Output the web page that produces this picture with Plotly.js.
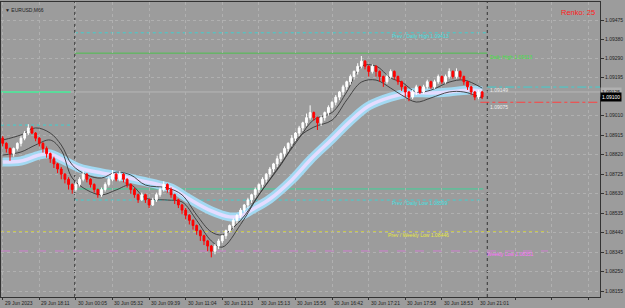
<!DOCTYPE html>
<html><head><meta charset="utf-8">
<script src="https://cdn.plot.ly/plotly-3.0.1.min.js"></script>
<style>html,body{margin:0;padding:0;background:#9c9c9c}#chart{width:625px;height:308px}</style>
</head><body><div id="chart"></div>
<script>
// ---- Renko bricks (price) ----
const brickOpen = [1.08900,1.08875,1.08850,1.08825,1.08850,1.08875,1.08900,1.08925,1.08950,1.08925,
1.08900,1.08875,1.08850,1.08825,1.08800,1.08775,1.08750,1.08725,1.08700,1.08675,
1.08650,1.08675,1.08700,1.08725,1.08700,1.08675,1.08650,1.08625,1.08650,1.08675,
1.08700,1.08725,1.08700,1.08725,1.08700,1.08675,1.08650,1.08625,1.08600,1.08625,
1.08600,1.08575,1.08600,1.08625,1.08650,1.08675,1.08650,1.08625,1.08600,1.08575,
1.08550,1.08525,1.08500,1.08475,1.08450,1.08425,1.08400,1.08375,1.08350,1.08375,
1.08400,1.08425,1.08450,1.08475,1.08500,1.08525,1.08550,1.08575,1.08600,1.08625,
1.08650,1.08675,1.08700,1.08725,1.08750,1.08775,1.08800,1.08825,1.08850,1.08875,
1.08900,1.08925,1.08950,1.08975,1.09000,1.09025,1.09000,1.08975,1.09000,1.09025,
1.09050,1.09075,1.09100,1.09125,1.09150,1.09175,1.09200,1.09225,1.09250,1.09275,
1.09250,1.09225,1.09250,1.09225,1.09200,1.09175,1.09200,1.09225,1.09200,1.09175,
1.09150,1.09125,1.09100,1.09125,1.09150,1.09125,1.09150,1.09175,1.09150,1.09175,
1.09200,1.09175,1.09200,1.09225,1.09200,1.09225,1.09200,1.09175,1.09150,1.09125,
1.09100,1.09125];
const brickClose = [1.08875,1.08850,1.08825,1.08850,1.08875,1.08900,1.08925,1.08950,1.08925,1.08900,
1.08875,1.08850,1.08825,1.08800,1.08775,1.08750,1.08725,1.08700,1.08675,1.08650,
1.08675,1.08700,1.08725,1.08700,1.08675,1.08650,1.08625,1.08650,1.08675,1.08700,
1.08725,1.08700,1.08725,1.08700,1.08675,1.08650,1.08625,1.08600,1.08625,1.08600,
1.08575,1.08600,1.08625,1.08650,1.08675,1.08650,1.08625,1.08600,1.08575,1.08550,
1.08525,1.08500,1.08475,1.08450,1.08425,1.08400,1.08375,1.08350,1.08375,1.08400,
1.08425,1.08450,1.08475,1.08500,1.08525,1.08550,1.08575,1.08600,1.08625,1.08650,
1.08675,1.08700,1.08725,1.08750,1.08775,1.08800,1.08825,1.08850,1.08875,1.08900,
1.08925,1.08950,1.08975,1.09000,1.09025,1.09000,1.08975,1.09000,1.09025,1.09050,
1.09075,1.09100,1.09125,1.09150,1.09175,1.09200,1.09225,1.09250,1.09275,1.09250,
1.09225,1.09250,1.09225,1.09200,1.09175,1.09200,1.09225,1.09200,1.09175,1.09150,
1.09125,1.09100,1.09125,1.09150,1.09125,1.09150,1.09175,1.09150,1.09175,1.09200,
1.09175,1.09200,1.09225,1.09200,1.09225,1.09200,1.09175,1.09150,1.09125,1.09100,
1.09125,1.09100];
const brickHigh = [1.08910,1.08880,1.08855,1.08855,1.08880,1.08910,1.08935,1.08968,1.08960,1.08930,
1.08905,1.08880,1.08860,1.08830,1.08810,1.08780,1.08760,1.08730,1.08710,1.08680,
1.08690,1.08710,1.08740,1.08730,1.08705,1.08680,1.08655,1.08660,1.08685,1.08710,
1.08745,1.08730,1.08740,1.08730,1.08705,1.08680,1.08660,1.08630,1.08635,1.08630,
1.08605,1.08610,1.08635,1.08660,1.08690,1.08680,1.08660,1.08630,1.08605,1.08580,
1.08560,1.08530,1.08505,1.08480,1.08455,1.08430,1.08405,1.08380,1.08385,1.08410,
1.08430,1.08455,1.08480,1.08510,1.08530,1.08560,1.08580,1.08610,1.08630,1.08660,
1.08680,1.08710,1.08730,1.08760,1.08780,1.08815,1.08830,1.08860,1.08880,1.08915,
1.08930,1.08960,1.08980,1.09020,1.09060,1.09030,1.09005,1.09010,1.09030,1.09060,
1.09080,1.09110,1.09130,1.09160,1.09180,1.09210,1.09230,1.09265,1.09300,1.09280,
1.09255,1.09260,1.09255,1.09230,1.09205,1.09210,1.09235,1.09230,1.09205,1.09180,
1.09155,1.09130,1.09135,1.09160,1.09155,1.09160,1.09185,1.09180,1.09185,1.09210,
1.09205,1.09210,1.09240,1.09230,1.09240,1.09230,1.09205,1.09180,1.09155,1.09130,
1.09135,1.09130];
const brickLow = [1.08860,1.08830,1.08790,1.08810,1.08840,1.08860,1.08890,1.08915,1.08920,1.08885,
1.08860,1.08830,1.08805,1.08780,1.08755,1.08730,1.08700,1.08680,1.08650,1.08630,
1.08640,1.08665,1.08690,1.08685,1.08660,1.08635,1.08610,1.08615,1.08640,1.08665,
1.08690,1.08690,1.08690,1.08685,1.08660,1.08630,1.08610,1.08585,1.08595,1.08585,
1.08560,1.08570,1.08590,1.08615,1.08640,1.08635,1.08610,1.08580,1.08560,1.08530,
1.08505,1.08480,1.08455,1.08430,1.08400,1.08380,1.08350,1.08320,1.08335,1.08360,
1.08390,1.08410,1.08440,1.08460,1.08485,1.08510,1.08540,1.08560,1.08585,1.08610,
1.08635,1.08660,1.08685,1.08710,1.08735,1.08760,1.08785,1.08810,1.08835,1.08860,
1.08885,1.08910,1.08935,1.08960,1.08990,1.08985,1.08940,1.08960,1.08985,1.09010,
1.09035,1.09060,1.09085,1.09110,1.09135,1.09160,1.09185,1.09210,1.09240,1.09235,
1.09200,1.09215,1.09200,1.09175,1.09150,1.09165,1.09190,1.09185,1.09160,1.09130,
1.09100,1.09080,1.09090,1.09110,1.09115,1.09115,1.09140,1.09140,1.09140,1.09165,
1.09165,1.09165,1.09190,1.09190,1.09190,1.09185,1.09160,1.09135,1.09110,1.09085,
1.09090,1.09090];

// ---- envelope lines (black) : bar index & price ----
const bandBars  = [0,5,9,13,16,19,23,27,31,35,39,45,49,53,57,60,65,70,76,81,85,90,94,98,102,106,109,113,117,122,126,131];
const upperBand = [1.08891,1.08916,1.08950,1.08925,1.08867,1.08770,1.08721,1.08706,1.08735,1.08721,1.08672,1.08658,1.08624,1.08526,1.08444,1.08430,1.08500,1.08625,1.08775,1.08900,1.08990,1.09025,1.09125,1.09250,1.09251,1.09193,1.09173,1.09125,1.09134,1.09173,1.09183,1.09144];
const lowerBand = [1.08818,1.08833,1.08867,1.08891,1.08842,1.08706,1.08648,1.08624,1.08648,1.08672,1.08609,1.08599,1.08590,1.08500,1.08400,1.08370,1.08480,1.08624,1.08770,1.08906,1.08954,1.08988,1.09086,1.09173,1.09183,1.09144,1.09110,1.09076,1.09096,1.09125,1.09125,1.09096];

// ---- slow moving average (light blue) ----
const maBars   = [0,5,10,13,16,21,27,32,38,43,46,51,57,62,65,68,73,79,84,90,95,100,106,111,117,122,127,131];
const maValues = [1.08784,1.08789,1.08818,1.08823,1.08799,1.08755,1.08731,1.08716,1.08692,1.08672,1.08658,1.08604,1.08546,1.08517,1.08521,1.08551,1.08604,1.08697,1.08794,1.08896,1.08984,1.09057,1.09100,1.09120,1.09120,1.09125,1.09134,1.09130];

// ---- levels ----
const prevDailyHigh = 1.09413;
const dailyHigh = 1.09314;
const leftHigh = 1.08964;
const leftGreen = 1.09125;
const dailyGreenLow = 1.08653;
const prevDailyLow = 1.08599;
const prevWeeklyLow = 1.08446;
const weeklyLow = 1.08351;
const cyanRight = 1.09149;
const redRight = 1.09075;
const bidPrice = 1.09100;
const askPrice = 1.09125;

// ---- axes ----
const xTickBars = [0,10,20,30,40,50,60,70,80,90,100,110,120,130,140,150,160];
const xTickLabels = ['29 Jun 2023','29 Jun 18:11','30 Jun 00:05','30 Jun 05:32','30 Jun 09:39','30 Jun 11:04','30 Jun 13:13','30 Jun 15:13','30 Jun 15:56','30 Jun 16:42','30 Jun 17:21','30 Jun 17:58','30 Jun 18:53','30 Jun 21:01'];
const yTickVals = [1.09475,1.09380,1.09290,1.09195,1.09010,1.08915,1.08820,1.08725,1.08630,1.08535,1.08440,1.08345,1.08250,1.08155];
const yTickLabels = ['1.09475','1.09380','1.09290','1.09195','1.09010','1.08915','1.08820','1.08725','1.08630','1.08535','1.08440','1.08345','1.08250','1.08155'];

const XR = [-0.46, 163.2];
const YR = [1.08127, 1.09563];
const FONT = 'Liberation Sans, Arial, sans-serif';
const barIdx = brickOpen.map((_, i) => i);

const traces = [
  {x: maBars, y: maValues, type:'scatter', mode:'lines', line:{color:'#a2d9f2', width:9, shape:'spline'}, hoverinfo:'skip'},
  {x: maBars, y: maValues, type:'scatter', mode:'lines', line:{color:'#e4dcff', width:3.5, shape:'spline'}, hoverinfo:'skip'},
  {x: bandBars, y: upperBand, type:'scatter', mode:'lines', line:{color:'#383838', width:0.9, shape:'spline'}, hoverinfo:'skip'},
  {x: bandBars, y: lowerBand, type:'scatter', mode:'lines', line:{color:'#383838', width:0.9, shape:'spline'}, hoverinfo:'skip'},
  {x: barIdx, open: brickOpen, high: brickHigh, low: brickLow, close: brickClose, type:'candlestick',
   xaxis:'x2', yaxis:'y2', whiskerwidth:0,
   increasing:{line:{color:'#ffffff', width:1}, fillcolor:'#ffffff'},
   decreasing:{line:{color:'#ff0000', width:1}, fillcolor:'#ff0000'}, hoverinfo:'skip'}
];

function hline(y, x0, x1, color, dash, width) {
  return {type:'line', xref:'x', yref:'y', x0:x0, x1:x1, y0:y, y1:y, layer:'below', line:{color:color, width:width||1, dash:dash||'solid'}};
}
function vline(x) {
  return {type:'line', xref:'x', yref:'paper', x0:x, x1:x, y0:0, y1:1, layer:'below', line:{color:'#333333', width:1, dash:'dot'}};
}

const shapes = [
  vline(19.7), vline(132.4),
  hline(prevDailyHigh, 19.7, 132.4, '#3fd0d0', 'dot'),
  hline(dailyHigh, 19.7, 132.4, '#4cc04c', 'solid'),
  hline(leftHigh, XR[0], 19.2, '#3fd0d0', 'dot'),
  hline(leftGreen, XR[0], 18.6, '#00ff7f', 'solid', 2),
  hline(dailyGreenLow, 19.7, 131.3, '#3ed29a', 'solid'),
  hline(prevDailyLow, 19.7, 131.3, '#3fd0d0', 'dot'),
  hline(prevWeeklyLow, XR[0], 149, '#c8c850', 'dot'),
  hline(weeklyLow, XR[0], 149, '#d080d0', 'dash'),
  hline(cyanRight, 132.4, XR[1], '#3fd0d0', 'dashdot'),
  hline(redRight, 130.5, XR[1], '#ff4040', 'dashdot'),
  hline(askPrice, XR[0], XR[1], '#b8b8b8', 'solid'),
];

function note(text, x, y, color, anchor, size) {
  return {text:text, x:x, y:y, xref:'x', yref:'y', showarrow:false, xanchor:anchor||'center', yanchor:'middle',
          font:{family:FONT, size:size||5, color:color}};
}
const annotations = [
  note('Prev / Daily High 1.09413', 114.1, 1.09397, '#40e0e0'),
  note('Daily High 1.09313', 132.6, 1.09295, '#40e040', 'left'),
  note('Prev / Daily Low 1.08599', 114.1, 1.08585, '#40e0e0'),
  note('Prev / Weekly Low 1.08446', 113.5, 1.08429, '#e8e840'),
  note('Weekly Low 1.08351', 131.8, 1.08337, '#ff70ff', 'left'),
  note('1.09149', 132.6, 1.09134, '#e8e8e8', 'left'),
  note('1.09075', 132.6, 1.09052, '#f0f0f0', 'left'),
  {text:'Renko: 25', xref:'paper', yref:'paper', x:0.995, y:0.965, xanchor:'right', yanchor:'middle', showarrow:false,
   font:{family:FONT, size:7.5, color:'#ff2020'}},
  {text:'▼ EURUSD,M66', xref:'paper', yref:'paper', x:0.004, y:0.99, xanchor:'left', yanchor:'top', showarrow:false,
   font:{family:FONT, size:5, color:'#222222'}},
  {text:'1.09125', xref:'paper', yref:'y', x:1.0, y:askPrice, xanchor:'left', yanchor:'middle', showarrow:false,
   bgcolor:'#b0b0b0', font:{family:FONT, size:5, color:'#222222'}, borderpad:1},
  {text:'1.09100', xref:'paper', yref:'y', x:1.0, y:bidPrice, xanchor:'left', yanchor:'middle', showarrow:false,
   bgcolor:'#000000', font:{family:FONT, size:5, color:'#ffffff'}, borderpad:1},
];
xTickLabels.forEach((t, i) => {
  annotations.push({text:t, xref:'x', yref:'paper', x:xTickBars[i], y:0, xanchor:'left', yanchor:'top', yshift:-1,
    showarrow:false, font:{family:FONT, size:5, color:'#222222'}});
});

const layout = {
  width:625, height:308, margin:{l:1, r:25, t:2, b:11},
  paper_bgcolor:'#9c9c9c', plot_bgcolor:'#9c9c9c', showlegend:false,
  xaxis:{range:XR, tickvals:xTickBars, showticklabels:false, ticks:'outside', ticklen:2, tickcolor:'#333',
         showgrid:true, gridcolor:'#b0b0b0', griddash:'dot', gridwidth:1, zeroline:false,
         showline:true, linecolor:'#333333', mirror:true, rangeslider:{visible:false}, fixedrange:true},
  yaxis:{range:YR, side:'right', tickvals:yTickVals, ticktext:yTickLabels, ticks:'outside', ticklen:3, tickcolor:'#333',
         tickfont:{family:FONT, size:5, color:'#222222'}, showgrid:true, gridcolor:'#b0b0b0', griddash:'dot',
         zeroline:false, showline:true, linecolor:'#333333', mirror:true, fixedrange:true},
  xaxis2:{range:XR, overlaying:'x', visible:false, rangeslider:{visible:false}, fixedrange:true},
  yaxis2:{range:YR, overlaying:'y', visible:false, side:'right', fixedrange:true},
  shapes:shapes, annotations:annotations
};

Plotly.newPlot('chart', traces, layout, {displayModeBar:false, staticPlot:true});
</script>
</body></html>
